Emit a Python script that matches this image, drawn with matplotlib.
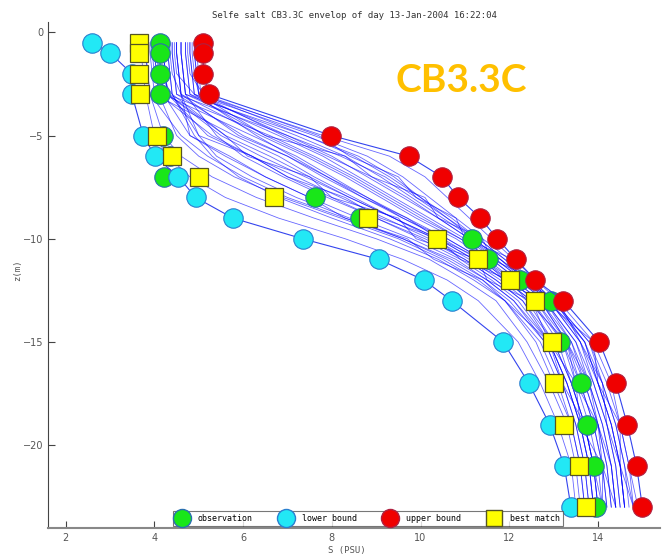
import numpy as np
import matplotlib
matplotlib.use("Agg")
import matplotlib.pyplot as plt
from matplotlib.lines import Line2D

# depths (m) used for all profiles
depth = [-0.5, -1, -2, -3, -5, -6, -7, -8, -9, -10, -11, -12, -13, -15, -17, -19, -21, -23]

obs_s = [4.13, 4.13, 4.13, 4.13, 4.2, 4.35, 4.22, 7.62, 8.63, 11.17, 11.52, 12.24, 12.94, 13.15, 13.62, 13.75, 13.92, 13.95]
low_s = [2.6, 3.0, 3.49, 3.49, 3.75, 4.01, 4.54, 4.93, 5.77, 7.34, 9.06, 10.07, 10.7, 11.86, 12.44, 12.91, 13.24, 13.39]
up_s = [5.1, 5.1, 5.1, 5.23, 7.99, 9.73, 10.48, 10.85, 11.35, 11.73, 12.15, 12.59, 13.22, 14.03, 14.4, 14.66, 14.87, 15.0]
best_s = [3.66, 3.66, 3.66, 3.68, 4.05, 4.39, 5.01, 6.69, 8.82, 10.37, 11.3, 12.01, 12.57, 12.97, 13.0, 13.23, 13.57, 13.72]

# ensemble members (S along depth)
ens = [
    [3.7, 3.7, 3.75, 3.8, 4.0, 4.3, 4.8, 5.6, 6.8, 8.3, 9.6, 10.6, 11.3, 12.2, 12.7, 13.1, 13.4, 13.5],
    [3.8, 3.8, 3.85, 3.9, 4.2, 4.6, 5.3, 6.3, 7.6, 9.0, 10.2, 11.0, 11.7, 12.4, 12.9, 13.3, 13.5, 13.6],
    [4.0, 4.0, 4.05, 4.1, 4.5, 5.0, 5.8, 6.9, 8.2, 9.5, 10.5, 11.3, 11.9, 12.6, 13.0, 13.4, 13.6, 13.7],
    [4.1, 4.1, 4.15, 4.2, 4.8, 5.6, 6.5, 7.5, 8.6, 9.8, 10.8, 11.5, 12.1, 12.8, 13.2, 13.5, 13.7, 13.8],
    [4.2, 4.2, 4.25, 4.3, 5.2, 6.2, 7.0, 8.0, 9.0, 10.1, 11.0, 11.7, 12.3, 12.9, 13.3, 13.6, 13.8, 13.9],
    [4.3, 4.3, 4.35, 4.4, 5.6, 6.6, 7.5, 8.4, 9.4, 10.4, 11.2, 11.9, 12.5, 13.1, 13.4, 13.7, 13.9, 14.0],
    [4.4, 4.4, 4.45, 4.5, 6.0, 7.0, 7.9, 8.8, 9.7, 10.6, 11.4, 12.0, 12.6, 13.2, 13.5, 13.8, 14.0, 14.1],
    [4.5, 4.5, 4.55, 4.6, 6.4, 7.4, 8.3, 9.1, 9.9, 10.8, 11.5, 12.1, 12.7, 13.3, 13.6, 13.9, 14.1, 14.2],
    [4.6, 4.6, 4.65, 4.7, 6.8, 7.8, 8.6, 9.4, 10.2, 11.0, 11.7, 12.3, 12.8, 13.4, 13.7, 14.0, 14.2, 14.3],
    [4.7, 4.7, 4.75, 4.8, 7.2, 8.3, 9.1, 9.8, 10.5, 11.2, 11.8, 12.4, 12.9, 13.6, 13.9, 14.2, 14.4, 14.5],
    [4.8, 4.8, 4.85, 4.9, 7.6, 8.8, 9.6, 10.2, 10.8, 11.4, 12.0, 12.5, 13.0, 13.8, 14.1, 14.4, 14.6, 14.7],
    [4.9, 4.9, 4.95, 5.0, 7.8, 9.3, 10.1, 10.6, 11.1, 11.6, 12.1, 12.6, 13.1, 13.9, 14.3, 14.5, 14.7, 14.9],
    [4.95, 4.95, 5.0, 5.05, 7.4, 8.6, 9.4, 10.0, 10.6, 11.2, 11.8, 12.3, 12.9, 13.7, 14.0, 14.3, 14.5, 14.6],
    [4.6, 4.6, 4.65, 4.7, 5.4, 6.0, 6.9, 7.9, 9.0, 10.0, 10.9, 11.6, 12.2, 12.9, 13.3, 13.6, 13.8, 13.9],
    [4.5, 4.5, 4.55, 4.6, 5.0, 5.4, 6.2, 7.2, 8.4, 9.6, 10.6, 11.4, 12.0, 12.8, 13.2, 13.5, 13.7, 13.8],
    [4.1, 4.1, 4.15, 4.2, 6.2, 7.2, 8.0, 8.8, 9.6, 10.5, 11.3, 12.0, 12.6, 13.3, 13.7, 14.0, 14.2, 14.3],
    [4.2, 4.2, 4.25, 4.3, 6.6, 7.6, 8.5, 9.3, 10.1, 10.9, 11.6, 12.2, 12.8, 13.5, 13.8, 14.1, 14.3, 14.4],
    [3.9, 3.9, 3.95, 4.0, 5.8, 6.8, 7.6, 8.5, 9.4, 10.3, 11.1, 11.8, 12.4, 13.0, 13.4, 13.7, 13.9, 14.0],
    [4.4, 4.4, 4.45, 4.5, 7.0, 8.0, 8.8, 9.6, 10.4, 11.1, 11.7, 12.3, 12.9, 13.6, 14.0, 14.3, 14.5, 14.6],
    [4.3, 4.3, 4.35, 4.4, 4.9, 5.3, 5.9, 6.8, 8.0, 9.3, 10.4, 11.2, 11.9, 12.7, 13.1, 13.4, 13.6, 13.7],
    [4.7, 4.7, 4.75, 4.8, 6.5, 7.5, 8.4, 9.2, 10.0, 10.9, 11.6, 12.2, 12.8, 13.5, 13.9, 14.2, 14.4, 14.5],
    [4.0, 4.0, 4.05, 4.1, 5.3, 6.2, 7.2, 8.2, 9.2, 10.2, 11.0, 11.7, 12.3, 13.0, 13.4, 13.7, 13.9, 14.0],
    [4.8, 4.8, 4.85, 4.9, 7.0, 8.2, 9.2, 9.9, 10.6, 11.3, 11.9, 12.5, 13.0, 13.7, 14.1, 14.4, 14.6, 14.8],
    [3.8, 3.8, 3.85, 3.9, 4.6, 5.2, 6.0, 7.0, 8.3, 9.6, 10.7, 11.5, 12.1, 12.9, 13.3, 13.6, 13.8, 13.9],
    [4.5, 4.5, 4.55, 4.6, 5.9, 7.0, 7.8, 8.7, 9.6, 10.6, 11.4, 12.1, 12.7, 13.4, 13.8, 14.1, 14.3, 14.4],
    [4.9, 4.9, 4.95, 5.0, 6.9, 7.9, 8.9, 9.7, 10.4, 11.1, 11.8, 12.4, 13.0, 13.8, 14.2, 14.5, 14.7, 14.8],
    [4.2, 4.2, 4.25, 4.3, 5.5, 6.4, 7.4, 8.4, 9.4, 10.4, 11.2, 11.9, 12.5, 13.2, 13.6, 13.9, 14.1, 14.2],
    [4.6, 4.6, 4.65, 4.7, 7.4, 8.5, 9.3, 10.0, 10.7, 11.3, 11.9, 12.4, 13.0, 13.7, 14.0, 14.3, 14.5, 14.6],
    [4.45, 4.45, 4.5, 4.9, 6.3, 7.1, 7.9, 8.7, 9.7, 10.4, 11.4, 11.9, 12.7, 13.3, 13.8, 14.0, 14.3, 14.4],
    [4.05, 4.05, 4.1, 4.4, 5.0, 6.2, 7.0, 8.3, 9.1, 10.4, 10.9, 12.0, 12.4, 13.3, 13.5, 14.0, 14.1, 14.4],
    [4.75, 4.75, 4.8, 5.1, 7.7, 8.4, 9.5, 9.9, 10.8, 11.0, 12.1, 12.2, 13.1, 13.6, 14.1, 14.2, 14.5, 14.6],
    [4.35, 4.35, 4.4, 4.6, 4.8, 5.7, 6.5, 7.5, 8.3, 9.7, 10.3, 11.4, 11.9, 12.9, 13.2, 13.7, 13.9, 14.1],
    [4.85, 4.85, 4.9, 5.0, 6.5, 8.3, 8.9, 10.1, 10.4, 11.4, 11.6, 12.6, 12.8, 13.9, 14.0, 14.5, 14.5, 14.8],
    [3.95, 3.95, 4.0, 4.3, 5.6, 6.1, 7.5, 8.0, 9.5, 9.9, 11.3, 11.5, 12.5, 12.9, 13.5, 13.6, 14.1, 14.1],
]

x_ticks = [2, 4, 6, 8, 10, 12, 14]
y_ticks = [0, -5, -10, -15, -20]

mono = "DejaVu Sans Mono"

fig = plt.figure(figsize=(6.69, 5.56), dpi=100)
ax = fig.add_axes([0.0717, 0.0508, 0.915, 0.9096])

for prof in ens:
    ax.plot(prof, depth, color="#0000ff", lw=0.6, alpha=0.6, zorder=1)

ms = 14
ax.plot(obs_s, depth, "o", ms=ms, mfc="#19e619", mec="#2a6fb0", mew=0.8, zorder=3)
ax.plot(low_s, depth, "-o", color="#3344ee", lw=0.8, ms=ms, mfc="#22e8f5", mec="#2a7fd0", mew=0.8, zorder=4)
ax.plot(up_s, depth, "-o", color="#3344ee", lw=0.8, ms=ms, mfc="#f00000", mec="#b02040", mew=0.8, zorder=4)
ax.plot(best_s, depth, "s", ms=12.5, mfc="#ffff00", mec="#555522", mew=0.9, zorder=5)

ax.set_xlim(1.6, 15.4)
ax.set_ylim(-24, 0.5)
ax.set_xticks(x_ticks)
ax.set_yticks(y_ticks)
ax.tick_params(direction="in", length=5, labelsize=7, colors="#444444", labelcolor="#555555")
for s in ["top", "right"]:
    ax.spines[s].set_visible(False)
ax.spines["left"].set_color("#444444")
ax.spines["bottom"].set_color("#888888")
ax.spines["bottom"].set_linewidth(1.5)

ax.set_title("Selfe salt CB3.3C envelop of day 13-Jan-2004 16:22:04", fontsize=6.5,
             family=mono, color="#333333", pad=3)
ax.set_xlabel("S (PSU)", fontsize=6.5, family=mono, color="#555555")
ax.set_ylabel("z(m)", fontsize=6.5, family=mono, color="#555555")
ax.xaxis.set_label_coords(0.488, -0.036)
ax.yaxis.set_label_coords(-0.042, 0.51)

fig.text(0.69, 0.856, "CB3.3C", fontsize=28, fontweight="bold", family="Lato",
         color="#ffc000", ha="center", va="center")

handles = [
    Line2D([], [], ls="", marker="o", ms=13, mfc="#19e619", mec="#2a6fb0"),
    Line2D([], [], ls="", marker="o", ms=13, mfc="#22e8f5", mec="#2a7fd0"),
    Line2D([], [], ls="", marker="o", ms=13, mfc="#f00000", mec="#b02040"),
    Line2D([], [], ls="", marker="s", ms=12, mfc="#ffff00", mec="#555522"),
]
labels = ["observation", "lower bound", "upper bound", "best match"]
leg = fig.legend(handles, labels, loc="center", bbox_to_anchor=(0.55, 0.068), ncol=4,
                 prop={"family": mono, "size": 6}, frameon=True, fancybox=False,
                 borderpad=0.35, handletextpad=1.2, columnspacing=3.2, handlelength=1.5)
leg.get_frame().set_edgecolor("#555555")
leg.get_frame().set_linewidth(0.8)
leg.set_zorder(10)

fig.savefig("out.png", dpi=100)
